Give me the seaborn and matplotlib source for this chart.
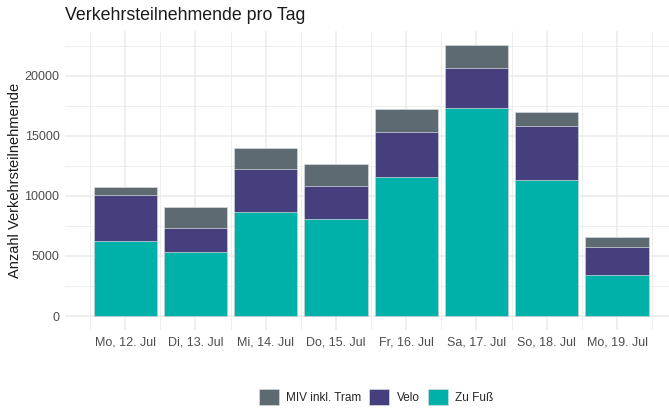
import numpy as np
import pandas as pd
import matplotlib
matplotlib.use('Agg')
import matplotlib.pyplot as plt
from matplotlib.patches import Patch
import seaborn as sns

# Daten
tage = ['Mo, 12. Jul', 'Di, 13. Jul', 'Mi, 14. Jul', 'Do, 15. Jul',
        'Fr, 16. Jul', 'Sa, 17. Jul', 'So, 18. Jul', 'Mo, 19. Jul']
zu_fuss = [6240, 5325, 8680, 8100, 11540, 17330, 11340, 3385]
velo = [3800, 2025, 3550, 2720, 3790, 3300, 4440, 2385]
miv = [720, 1695, 1770, 1850, 1890, 1940, 1220, 830]

kategorien = ['MIV inkl. Tram', 'Velo', 'Zu Fuß']
farben = {'MIV inkl. Tram': '#5d6a70', 'Velo': '#463f7d', 'Zu Fuß': '#00b1a9'}

df = pd.DataFrame({'Tag': tage, 'Zu Fuß': zu_fuss, 'Velo': velo, 'MIV inkl. Tram': miv})
# kumulierte Hoehen fuer gestapelte Balken
df['cum_fuss'] = df['Zu Fuß']
df['cum_velo'] = df['Zu Fuß'] + df['Velo']
df['cum_miv'] = df['cum_velo'] + df['MIV inkl. Tram']

sns.set_theme(style='white')
plt.rcParams['font.family'] = ['Liberation Sans', 'DejaVu Sans']

fig = plt.figure(figsize=(6.69, 4.09), dpi=100)
ax = fig.add_axes([65/669, 1 - 329.6/409, (669 - 65)/669, (329.6 - 31)/409])

kw = dict(width=0.9, edgecolor='#d5dadc', linewidth=0.5, order=tage, saturation=1, ax=ax)
sns.barplot(data=df, x='Tag', y='cum_miv', color=farben['MIV inkl. Tram'], **kw)
sns.barplot(data=df, x='Tag', y='cum_velo', color=farben['Velo'], **kw)
sns.barplot(data=df, x='Tag', y='cum_fuss', color=farben['Zu Fuß'], **kw)

ax.set_xlim(-0.856, 7.74)
ax.set_ylim(-1130, 23730)

# Gitter wie theme_minimal
ax.set_xticks(np.arange(len(tage)))
ax.set_xticklabels(tage)
ax.set_xticks(np.arange(-0.5, len(tage)), minor=True)
ax.set_yticks([0, 5000, 10000, 15000, 20000])
ax.set_yticks([2500, 7500, 12500, 17500, 22500], minor=True)
ax.grid(which='major', color='#ebebeb', linewidth=1.1)
ax.grid(which='minor', color='#ebebeb', linewidth=0.6)
ax.set_axisbelow(True)
for s in ax.spines.values():
    s.set_visible(False)
ax.tick_params(which='both', length=0)
ax.tick_params(axis='x', labelsize=9, labelcolor='#4d4d4d', pad=5)
ax.tick_params(axis='y', labelsize=9, labelcolor='#4d4d4d', pad=4)

ax.set_xlabel('')
ax.set_ylabel('Anzahl Verkehrsteilnehmende', fontsize=10.5, color='#1a1a1a', labelpad=1.5)
fig.text(65/669, 1 - 16/409, 'Verkehrsteilnehmende pro Tag', fontsize=12.8,
         color='#1a1a1a', ha='left', va='center')

handles = [Patch(facecolor=farben[k], edgecolor='#d5dadc', linewidth=0.5, label=k) for k in kategorien]
fig.legend(handles=handles, loc='center', bbox_to_anchor=(376/669, 1 - 397/409), ncol=3,
           frameon=False, fontsize=8.5, handlelength=1.7, handleheight=1.7,
           columnspacing=0.7, handletextpad=0.6)

fig.savefig('out.png', dpi=100)
